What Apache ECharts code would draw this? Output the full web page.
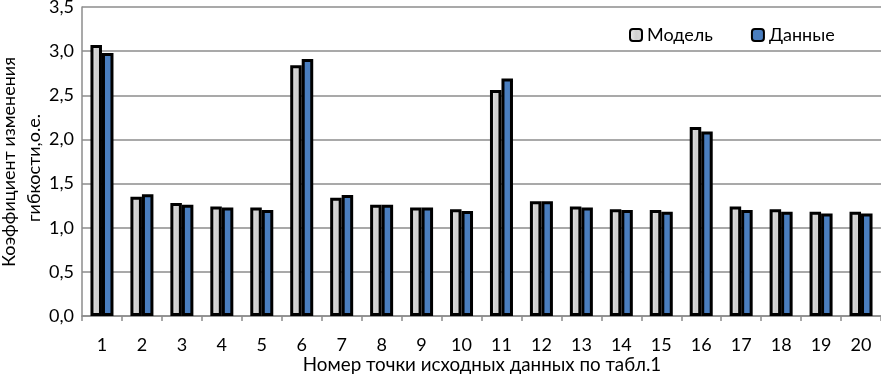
<!DOCTYPE html>
<html><head><meta charset="utf-8">
<script src="https://cdn.jsdelivr.net/npm/echarts@6/dist/echarts.min.js"></script>
<style>html,body{margin:0;padding:0;background:#fff}#c{width:881px;height:374px}</style>
</head><body><div id="c"></div>
<script>
const categories = ['1','2','3','4','5','6','7','8','9','10','11','12','13','14','15','16','17','18','19','20'];
const model = [3.07,1.35,1.28,1.24,1.23,2.84,1.34,1.26,1.23,1.21,2.56,1.30,1.24,1.21,1.20,2.14,1.24,1.21,1.18,1.18];
const data  = [2.98,1.38,1.26,1.23,1.20,2.91,1.37,1.26,1.23,1.19,2.69,1.30,1.23,1.20,1.18,2.09,1.20,1.18,1.16,1.16];
const seriesNames = ['Модель','Данные'];
const xTitle = 'Номер точки исходных данных по табл.1';
const yTitle1 = 'Коэффициент изменения';
const yTitle2 = 'гибкости,о.е.';
const FONT = 'Lato';
const chart = echarts.init(document.getElementById('c'));
const tStyle = (t,s)=>({text:t,fill:'#000',font:(s||18)+'px '+FONT,textAlign:'center',textVerticalAlign:'middle'});
chart.setOption({
  animation:false,
  textStyle:{fontFamily:FONT},
  grid:{left:82,right:0,top:7,bottom:58,containLabel:false,outerBoundsMode:'none'},
  legend:{left:624,top:21,itemWidth:12,itemHeight:12,itemGap:38,
    textStyle:{fontFamily:FONT,fontSize:18,color:'#000'},
    data:seriesNames},
  graphic:[
    {type:'text',x:482,y:365,style:tStyle(xTitle,18.8),z:10},
    {type:'text',x:9,y:162,rotation:Math.PI/2,style:tStyle(yTitle1),z:10},
    {type:'text',x:34,y:168,rotation:Math.PI/2,style:tStyle(yTitle2),z:10}
  ],
  xAxis:{type:'category',data:categories,
    axisLine:{lineStyle:{color:'#8c8c8c',width:1.5}},
    axisTick:{show:true,length:5,lineStyle:{color:'#8c8c8c',width:1.5}},
    axisLabel:{fontSize:18,color:'#000',margin:20}},
  yAxis:{type:'value',min:0,max:3.5,interval:0.5,
    axisLine:{show:true,lineStyle:{color:'#8c8c8c',width:1.5}},
    axisTick:{show:false},
    splitLine:{lineStyle:{color:'#8c8c8c',width:1.5}},
    axisLabel:{fontSize:18,color:'#000',margin:8,formatter:v=>v.toFixed(1).replace('.',',')}},
  series:[
    {name:seriesNames[0],type:'bar',data:model,barWidth:11.5,barGap:'0%',
     itemStyle:{color:new echarts.graphic.LinearGradient(0,0,1,0,[{offset:0,color:'#efefef'},{offset:0.5,color:'#cfcfcf'},{offset:1,color:'#dadada'}]),borderColor:'#000',borderWidth:3}},
    {name:seriesNames[1],type:'bar',data:data,barWidth:11.5,barGap:'0%',
     itemStyle:{color:'#4a7ebf',borderColor:'#000',borderWidth:3}}
  ]
});
</script></body></html>
